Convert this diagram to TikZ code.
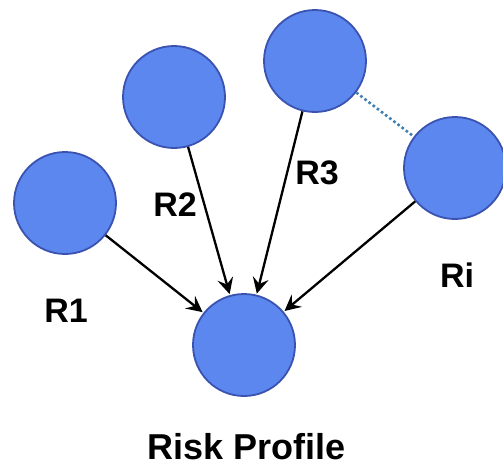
\documentclass[tikz,border=0pt]{standalone}
\usepackage{fontspec}
\setmainfont{Liberation Sans}
\usetikzlibrary{arrows.meta}
\definecolor{ballfill}{RGB}{92,135,239}
\definecolor{ballline}{RGB}{58,82,176}
\definecolor{linkdot}{RGB}{66,128,178}
\begin{document}
\begin{tikzpicture}[x=1pt,y=-1pt,
  ball/.style={circle,fill=ballfill,draw=ballline,line width=1.8pt,minimum size=102pt,inner sep=0pt},
  lbl/.style={font=\fontsize{34}{34}\selectfont\bfseries,inner sep=0pt,text depth=0pt,anchor=base},
  feed/.style={line width=2.3pt,-{Stealth[length=16pt,width=16pt,inset=6pt]},shorten >=1pt},
  link/.style={linkdot,line width=2.6pt,dash pattern=on 2.6pt off 2.6pt}]
  \useasboundingbox[fill=white] (0,0) rectangle (503,467);
  % risk sources and the aggregate profile
  \node[ball] (r1) at (65,203) {};
  \node[ball] (r2) at (174,97) {};
  \node[ball] (r3) at (315,61) {};
  \node[ball] (ri) at (455,168) {};
  \node[ball] (rp) at (244,345) {};
  % labels
  \node[lbl] (t1) at (66,322) {R1};
  \node[lbl] (t2) at (175,216) {R2};
  \node[lbl] (t3) at (317,184) {R3};
  \node[lbl] (ti) at (457,287) {Ri};
  \node[lbl,font=\fontsize{36}{36}\selectfont\bfseries] (tp) at (247,459) {Risk Profile};
  % contributions
  \draw[feed] (r1) -- (rp);
  \draw[feed] (r2) -- (rp);
  \draw[feed] (r3) -- (rp);
  \draw[feed] (ri) -- (rp);
  % further sources omitted
  \draw[link] (r3) -- (ri);
\end{tikzpicture}
\end{document}
